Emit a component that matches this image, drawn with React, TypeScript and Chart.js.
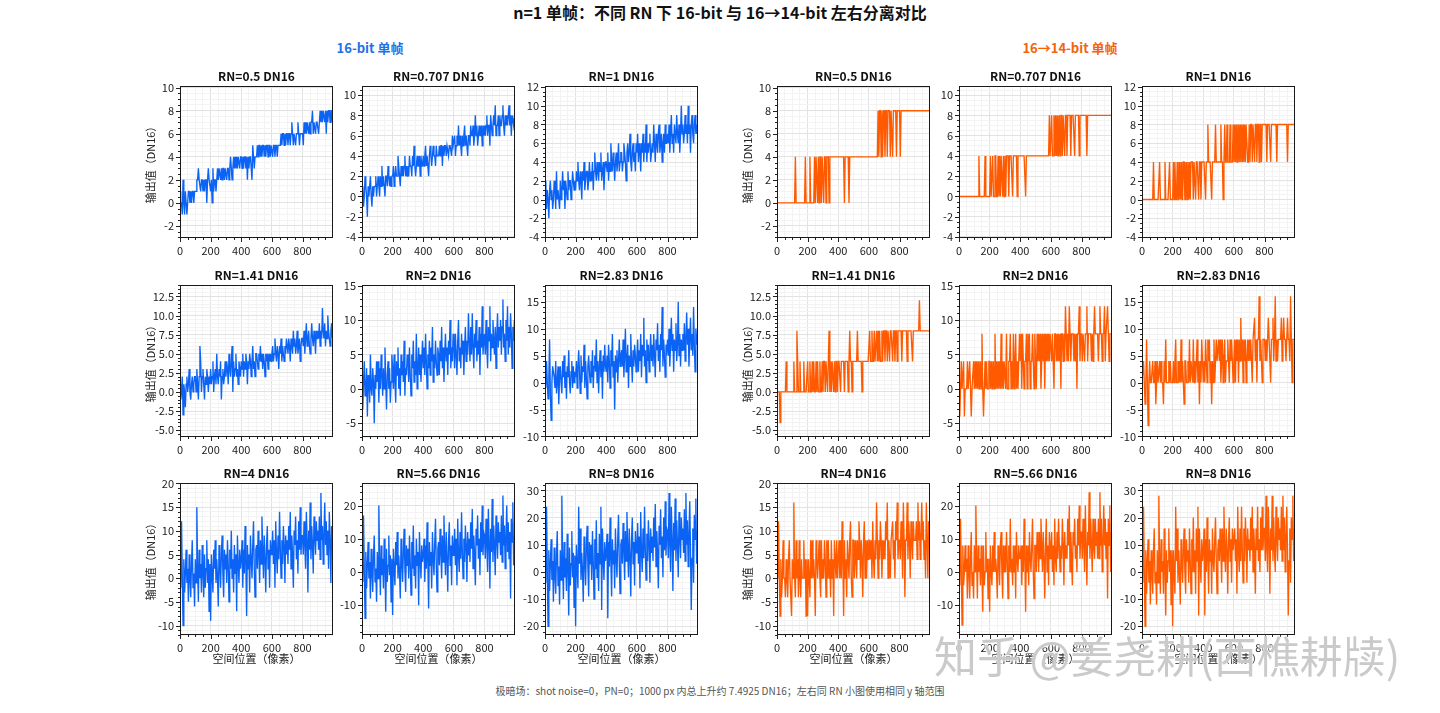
import React, { useEffect, useRef } from 'react';
import { Chart, registerables } from 'chart.js';

Chart.register(...registerables);

const FONT = '"Noto Sans CJK SC", "Noto Sans", sans-serif';
Chart.defaults.font.family = FONT;

// ---------- axis / tick data ----------
const RN_LABELS = ['0.5', '0.707', '1', '1.41', '2', '2.83', '4', '5.66', '8'];
const Y_MIN = [-3.05, -4.1, -4.1, -5.9, -7, -10.1, -12, -19, -23.2];
const Y_MAX = [10.15, 10.9, 12.1, 14, 15.1, 18.1, 20.1, 26.8, 32.7];
const Y_MAJOR = [2, 2, 2, 2.5, 5, 5, 5, 10, 10];
const Y_MINOR = [0.5, 0.5, 0.5, 0.5, 1, 1, 1, 2, 2];
const X_MAX = 999;
const X_MAJOR = 200;
const X_MINOR = 50;
const SAMPLE_STEP = 5; // one sample every 5 px along the 1000-px line

// ---------- 16-bit single-frame output (DN16), sampled every 5 px ----------
const RN_0_5 = [
  1,0,0,-1,2,0,-1,1,0,-1,0,1,1,0,1,0,1,1,0,1,
  1,1,2,2,3,2,2,1,2,2,1,2,1,2,2,0,2,3,2,2,
  1,2,0,3,1,2,2,1,2,3,2,3,3,2,3,2,3,3,2,3,
  3,2,3,3,2,3,4,3,2,3,4,3,4,3,4,3,4,4,3,4,
  4,3,4,3,4,4,3,4,2,4,3,4,4,3,2,5,4,3,4,4,
  4,5,4,5,5,4,5,4,5,5,4,5,4,5,5,4,5,5,4,5,
  5,4,5,5,4,5,5,4,5,5,5,5,6,5,6,6,5,6,5,6,
  6,5,6,6,5,6,7,6,5,6,6,5,6,6,7,6,5,6,6,6,
  6,5,7,6,7,6,7,7,6,7,6,7,7,8,6,7,7,6,7,7,
  7,6,7,8,7,8,7,8,8,7,8,6,8,7,8,8,7,8,8,7,
];
const RN_0_707 = [
  0,1,-1,0,2,1,0,-2,1,0,1,2,0,-1,1,0,1,1,2,0,
  1,2,1,0,2,1,3,1,2,1,0,2,2,1,3,2,1,2,1,2,
  2,3,1,2,3,2,2,4,3,2,1,3,2,3,2,3,4,2,3,2,
  3,2,4,3,3,2,4,3,5,3,2,3,4,3,3,4,2,4,3,3,
  4,3,4,5,3,4,4,2,4,5,4,3,4,5,4,4,3,5,4,4,
  4,5,4,5,5,3,5,4,5,5,4,5,5,4,5,5,5,4,6,5,
  5,6,4,5,6,5,7,5,6,5,4,6,5,6,7,5,6,6,4,6,
  6,5,7,6,6,7,5,6,8,6,7,5,6,7,6,6,7,5,7,6,
  7,6,7,8,6,7,7,5,8,7,6,7,8,7,9,6,7,7,8,6,
  8,7,7,8,9,7,6,8,7,8,7,8,9,7,8,6,8,8,7,8,
];
const RN_1 = [
  0,2,-1,1,0,-2,1,2,0,1,-1,0,2,1,-1,3,0,1,1,-1,
  2,0,1,3,1,2,-1,2,1,0,3,1,2,2,0,1,3,2,1,2,
  1,3,2,4,2,1,3,2,0,3,2,4,1,2,3,3,1,2,4,2,
  3,2,4,1,3,5,3,2,4,3,2,4,3,5,2,3,4,1,3,4,
  4,3,5,2,4,3,6,4,3,5,4,2,4,5,3,4,6,3,4,5,
  5,3,4,6,5,4,2,5,6,4,5,7,4,3,5,6,4,5,3,6,
  5,7,4,6,5,3,6,5,7,4,6,5,8,4,6,5,6,7,4,5,
  6,5,8,6,4,7,6,5,7,8,5,6,7,4,6,7,5,8,6,6,
  7,6,8,5,7,9,6,7,5,8,7,6,9,7,6,8,5,7,10,7,
  8,6,7,9,7,8,6,10,7,8,5,8,9,7,6,8,9,7,8,7,
];
const RN_1_41 = [
  1,-1,0,2,-3,1,0,-2,1,2,0,1,3,0,-1,1,2,0,1,2,
  2,0,3,1,-1,2,6,4,0,2,3,1,-1,2,1,3,2,0,2,1,
  3,1,2,4,0,2,3,1,5,2,1,3,2,4,-1,2,3,1,2,4,
  2,4,3,1,5,3,2,4,6,0,4,2,3,5,2,3,1,4,3,2,
  4,3,5,2,4,3,5,4,1,4,3,5,4,2,4,6,3,4,2,5,
  5,4,3,5,4,6,4,5,3,5,4,2,5,4,5,3,5,4,5,4,
  5,6,4,5,7,5,4,6,5,3,6,5,7,4,6,5,4,6,5,7,
  6,5,7,6,4,7,6,5,8,6,7,5,6,8,5,6,7,4,6,7,
  7,6,8,5,7,9,6,7,8,6,5,7,9,7,6,8,7,5,8,7,
  8,7,9,6,8,7,11,8,7,9,6,8,7,10,8,7,6,8,9,7,
];
const RN_2 = [
  2,-3,1,4,-1,0,3,-4,2,1,-2,5,0,-1,3,1,-5,2,0,4,
  1,4,-2,3,0,5,2,-1,3,0,6,1,-3,2,4,0,3,-2,1,5,
  3,0,5,1,-2,4,2,6,0,3,-1,5,2,4,1,7,-1,3,2,5,
  4,1,6,2,-1,5,3,7,1,4,2,8,0,3,6,2,5,1,4,7,
  3,6,2,8,4,0,5,3,7,2,6,4,9,1,5,3,7,4,2,6,
  5,2,7,4,9,3,6,1,5,8,4,6,2,7,5,10,3,6,4,8,
  6,3,8,5,2,7,10,4,6,3,8,5,7,2,6,9,4,7,5,11,
  7,4,9,5,11,6,3,8,6,10,4,7,5,9,2,8,6,12,5,7,
  8,5,10,6,3,9,7,12,4,8,6,10,7,5,9,3,8,11,6,9,
  7,10,5,9,13,6,8,4,10,7,12,5,9,6,11,8,3,9,7,10,
];
const RN_2_83 = [
  2,-1,4,0,-3,1,8,-2,-7,0,3,2,1,-1,4,-2,0,3,-4,1,
  3,0,-2,4,1,5,-1,2,-3,3,1,6,0,-2,2,4,-1,3,0,2,
  1,4,-1,3,6,2,-2,5,0,3,2,7,-1,4,1,-3,3,5,2,0,
  4,1,6,-1,3,5,2,8,0,4,-2,3,6,1,4,-3,5,2,7,3,
  2,5,0,7,4,-1,6,3,9,1,4,-5,5,2,6,0,4,8,3,5,
  6,3,8,1,5,10,2,4,7,-1,5,3,9,4,0,6,3,7,5,2,
  5,8,2,6,4,9,1,7,5,12,3,6,0,8,4,7,2,5,9,4,
  7,3,9,5,1,8,6,11,4,7,2,9,6,14,3,8,5,1,7,6,
  8,5,10,3,7,12,6,9,2,8,6,11,4,7,15,5,9,3,8,6,
  9,6,11,4,8,13,7,10,3,8,12,6,9,5,14,7,2,10,8,7,
];
const RN_4 = [
  3,-2,12,0,-10,4,-3,1,6,-1,2,-5,5,0,-4,3,8,-2,1,-6,
  4,-1,15,2,-5,6,0,3,-3,7,1,-4,5,-2,2,8,-1,4,-7,3,
  -9,5,1,-3,6,2,8,-1,4,0,-6,7,3,-2,5,9,1,-4,6,2,
  5,-1,8,3,-5,6,2,10,0,4,-3,7,1,5,-7,9,3,-1,6,2,
  4,8,-2,6,1,11,3,-8,7,2,5,-3,9,4,0,7,12,2,-4,6,
  7,2,10,5,-1,8,3,13,6,0,9,4,-3,7,11,2,6,-2,8,5,
  6,10,3,8,-2,12,5,1,9,4,14,6,0,8,3,11,7,-1,9,5,
  8,3,11,6,14,2,9,5,-2,10,7,13,4,8,1,12,6,15,5,9,
  9,5,12,7,2,14,8,-3,10,6,16,4,11,7,1,13,9,5,12,8,
  10,6,13,4,18,8,11,3,9,16,7,12,5,10,2,14,8,-1,11,9,
];
const RN_5_66 = [
  4,-3,17,0,-14,6,-5,2,9,-2,3,-8,7,0,-6,5,11,-3,1,-9,
  6,-2,20,3,-7,8,-1,4,-5,10,1,-12,7,-3,2,11,-1,5,-9,4,
  -13,7,1,-4,9,2,12,-2,5,0,-8,10,3,-3,6,13,1,-6,8,2,
  7,-2,11,3,-7,9,1,14,-1,5,-5,10,2,6,-10,12,4,-2,8,3,
  5,10,-3,8,1,15,3,-11,9,2,6,-5,12,4,-1,9,16,2,-6,7,
  9,2,13,6,-2,11,3,17,7,-1,12,4,-6,9,15,2,8,-4,11,5,
  7,13,2,10,-4,16,5,0,12,4,18,6,-2,10,3,14,8,-3,12,5,
  10,3,15,7,19,1,11,5,-4,13,8,17,4,10,-1,15,6,20,5,12,
  11,4,16,8,0,19,9,-5,13,6,22,3,14,8,-1,17,10,4,15,9,
  12,5,17,3,23,8,14,1,10,20,6,15,4,12,-8,16,9,21,2,11,
];
const RN_8 = [
  5,-4,24,0,-20,8,-7,3,12,-3,4,-11,9,-1,-8,6,15,-5,2,-12,
  8,-3,28,4,-10,11,-2,5,-7,14,1,-16,9,-5,3,15,-2,7,-13,6,
  -20,10,2,-6,24,3,16,-3,7,0,-11,13,4,-5,9,17,2,-9,11,3,
  10,-3,15,4,-10,12,1,19,-2,7,-7,14,3,24,-14,16,5,-3,11,4,
  7,14,-17,11,2,20,4,-9,12,3,8,-6,16,5,-2,12,21,3,-8,10,
  12,3,18,8,-3,15,4,22,9,-2,16,6,-9,12,20,3,11,-5,15,7,
  9,18,3,13,-6,22,7,0,16,5,24,8,-3,14,4,19,11,-4,16,7,
  13,4,20,9,25,2,15,7,-6,17,10,23,5,13,-2,20,8,26,6,16,
  15,5,29,10,0,24,12,-7,18,8,27,4,19,10,-2,22,13,5,20,12,
  16,7,23,4,29,10,19,2,13,26,8,-14,5,16,-4,21,12,27,3,15,
];
const SERIES_16 = [RN_0_5, RN_0_707, RN_1, RN_1_41, RN_2, RN_2_83, RN_4, RN_5_66, RN_8];

// 16 -> 14 bit: drop 2 LSBs with round-half-to-even, back in DN16 units
function to14bit(v: number): number {
  const q = v / 4;
  const f = Math.floor(q);
  const d = q - f;
  let r: number;
  if (d > 0.5) r = f + 1;
  else if (d < 0.5) r = f;
  else r = f % 2 === 0 ? f : f + 1;
  return r * 4;
}

// ---------- layout ----------
const BLUE = '#0b63f6';
const ORANGE = '#ff5a00';
const PLOT_LEFT = [180, 362, 545, 777, 959, 1142];
const PLOT_TOP = [86, 285, 483];
const PLOT_W = 153;
const PLOT_H = 152;
const YAX_W = 50;
const TITLE_H = 24;
const XAX_H = 36;
const RIGHT_PAD = 6;

const isMultiple = (v: number, step: number) => Math.abs(v / step - Math.round(v / step)) < 1e-6;

function Panel({ rnIndex, side, col, row }: { rnIndex: number; side: number; col: number; row: number }) {
  const ref = useRef<HTMLCanvasElement>(null);
  useEffect(() => {
    const values16 = SERIES_16[rnIndex];
    const values = side === 0 ? values16 : values16.map(to14bit);
    const data = values.map((y, i) => ({ x: i * SAMPLE_STEP, y }));
    const color = side === 0 ? BLUE : ORANGE;
    const yMajor = Y_MAJOR[rnIndex];
    const yMinor = Y_MINOR[rnIndex];
    const yMin = Y_MIN[rnIndex];
    const yMax = Y_MAX[rnIndex];
    const title = `RN=${RN_LABELS[rnIndex]} DN16`;

    const decor = {
      id: 'decor',
      afterDraw(chart: any) {
        const { ctx, chartArea: a, scales } = chart;
        ctx.save();
        ctx.strokeStyle = '#222';
        ctx.lineWidth = 1;
        ctx.beginPath();
        for (const t of scales.x.ticks) {
          const px = Math.round(scales.x.getPixelForValue(t.value)) + 0.5;
          const len = isMultiple(t.value, X_MAJOR) ? 4 : 2;
          ctx.moveTo(px, a.bottom);
          ctx.lineTo(px, a.bottom + len);
        }
        for (const t of scales.y.ticks) {
          const py = Math.round(scales.y.getPixelForValue(t.value)) + 0.5;
          const len = isMultiple(t.value, yMajor) ? 4 : 2;
          ctx.moveTo(a.left, py);
          ctx.lineTo(a.left - len, py);
        }
        ctx.stroke();
        ctx.strokeStyle = '#1a1a1a';
        ctx.strokeRect(Math.round(a.left) + 0.5, Math.round(a.top) + 0.5, Math.round(a.width) - 1, Math.round(a.height) - 1);
        ctx.fillStyle = '#111';
        ctx.font = `bold 12px ${FONT}`;
        ctx.textAlign = 'center';
        ctx.textBaseline = 'middle';
        ctx.fillText(title, (a.left + a.right) / 2, a.top - 10);
        ctx.restore();
      },
    };

    const chart = new Chart(ref.current as HTMLCanvasElement, {
      type: 'line',
      data: {
        datasets: [
          {
            data,
            borderColor: color,
            backgroundColor: color,
            borderWidth: 1.35,
            pointRadius: 0,
            tension: 0,
            fill: false,
          },
        ],
      },
      options: {
        animation: false,
        responsive: false,
        events: [],
        layout: { padding: { top: TITLE_H, right: RIGHT_PAD, left: 0, bottom: 0 } },
        plugins: {
          legend: { display: false },
          title: { display: false },
          tooltip: { enabled: false },
        },
        scales: {
          x: {
            type: 'linear',
            min: 0,
            max: X_MAX,
            afterBuildTicks: (s: any) => {
              const t = [];
              for (let v = 0; v <= X_MAX; v += X_MINOR) t.push({ value: v });
              s.ticks = t;
            },
            afterFit: (s: any) => {
              s.height = XAX_H;
            },
            ticks: {
              autoSkip: false,
              maxRotation: 0,
              padding: 6,
              color: '#222',
              font: { size: 11, family: FONT },
              callback: (v: any) => (isMultiple(Number(v), X_MAJOR) ? String(v) : ''),
            },
            grid: {
              drawTicks: false,
              lineWidth: 1,
              color: (c: any) => (c.tick && isMultiple(c.tick.value, X_MAJOR) ? '#e2e2e2' : '#f3f3f3'),
            },
            border: { display: false },
            title: {
              display: row === 2,
              text: '空间位置（像素）',
              color: '#222',
              font: { size: 11, family: FONT },
              padding: { top: 0, bottom: 6 },
            },
          },
          y: {
            type: 'linear',
            min: yMin,
            max: yMax,
            afterBuildTicks: (s: any) => {
              const t = [];
              const start = Math.ceil(yMin / yMinor - 1e-9);
              for (let k = start; k * yMinor <= yMax + 1e-9; k++) {
                t.push({ value: Math.round(k * yMinor * 1000) / 1000 });
              }
              s.ticks = t;
            },
            afterFit: (s: any) => {
              s.width = YAX_W;
            },
            ticks: {
              autoSkip: false,
              padding: 6,
              color: '#222',
              font: { size: 11, family: FONT },
              callback: (v: any) => {
                const n = Number(v);
                if (!isMultiple(n, yMajor)) return '';
                return yMajor === 2.5 ? n.toFixed(1) : String(Math.round(n));
              },
            },
            grid: {
              drawTicks: false,
              lineWidth: 1,
              color: (c: any) => (c.tick && isMultiple(c.tick.value, yMajor) ? '#e2e2e2' : '#f3f3f3'),
            },
            border: { display: false },
            title: {
              display: col === 0,
              text: '输出值（DN16）',
              color: '#222',
              font: { size: 11, family: FONT },
              padding: { top: 14, bottom: 0 },
            },
          },
        },
      } as any,
      plugins: [decor],
    });
    return () => chart.destroy();
  }, [rnIndex, side, col, row]);

  return (
    <canvas
      ref={ref}
      width={YAX_W + PLOT_W + RIGHT_PAD}
      height={TITLE_H + PLOT_H + XAX_H}
      style={{
        position: 'absolute',
        left: PLOT_LEFT[side * 3 + col] - YAX_W,
        top: PLOT_TOP[row] - TITLE_H,
      }}
    />
  );
}

export default function App() {
  const panels = [];
  for (let side = 0; side < 2; side++) {
    for (let row = 0; row < 3; row++) {
      for (let col = 0; col < 3; col++) {
        panels.push(<Panel key={`${side}-${row}-${col}`} rnIndex={row * 3 + col} side={side} col={col} row={row} />);
      }
    }
  }
  return (
    <div
      style={{
        position: 'absolute',
        left: 0,
        top: 0,
        width: 1440,
        height: 713,
        background: '#fff',
        overflow: 'hidden',
        fontFamily: FONT,
      }}
    >
      <div
        style={{
          position: 'absolute',
          left: 0,
          top: 1,
          width: 1440,
          textAlign: 'center',
          fontWeight: 'bold',
          fontSize: 16,
          lineHeight: '22px',
          color: '#111',
        }}
      >
        n=1 单帧：不同 RN 下 16-bit 与 16→14-bit 左右分离对比
      </div>
      <div
        style={{
          position: 'absolute',
          left: 370,
          top: 39,
          transform: 'translateX(-50%)',
          whiteSpace: 'nowrap',
          fontWeight: 'bold',
          fontSize: 13,
          lineHeight: '18px',
          color: '#1f6fe8',
        }}
      >
        16-bit 单帧
      </div>
      <div
        style={{
          position: 'absolute',
          left: 1070,
          top: 39,
          transform: 'translateX(-50%)',
          whiteSpace: 'nowrap',
          fontWeight: 'bold',
          fontSize: 13,
          lineHeight: '18px',
          color: '#f2640c',
        }}
      >
        16→14-bit 单帧
      </div>
      {panels}
      <div
        style={{
          position: 'absolute',
          left: 0,
          top: 684,
          width: 1440,
          textAlign: 'center',
          fontSize: 10,
          lineHeight: '14px',
          color: '#555',
        }}
      >
        极暗场：shot noise=0，PN=0；1000 px 内总上升约 7.4925 DN16；左右同 RN 小图使用相同 y 轴范围
      </div>
      <div
        style={{
          position: 'absolute',
          left: 934,
          top: 626,
          whiteSpace: 'nowrap',
          fontSize: 43,
          lineHeight: '56px',
          color: 'rgba(180,180,180,0.7)',
          textShadow: '0 0 2px #fff, 0 0 2px #fff',
          pointerEvents: 'none',
          zIndex: 5,
        }}
      >
        知乎 @姜尧耕(西樵耕牍)
      </div>
    </div>
  );
}
